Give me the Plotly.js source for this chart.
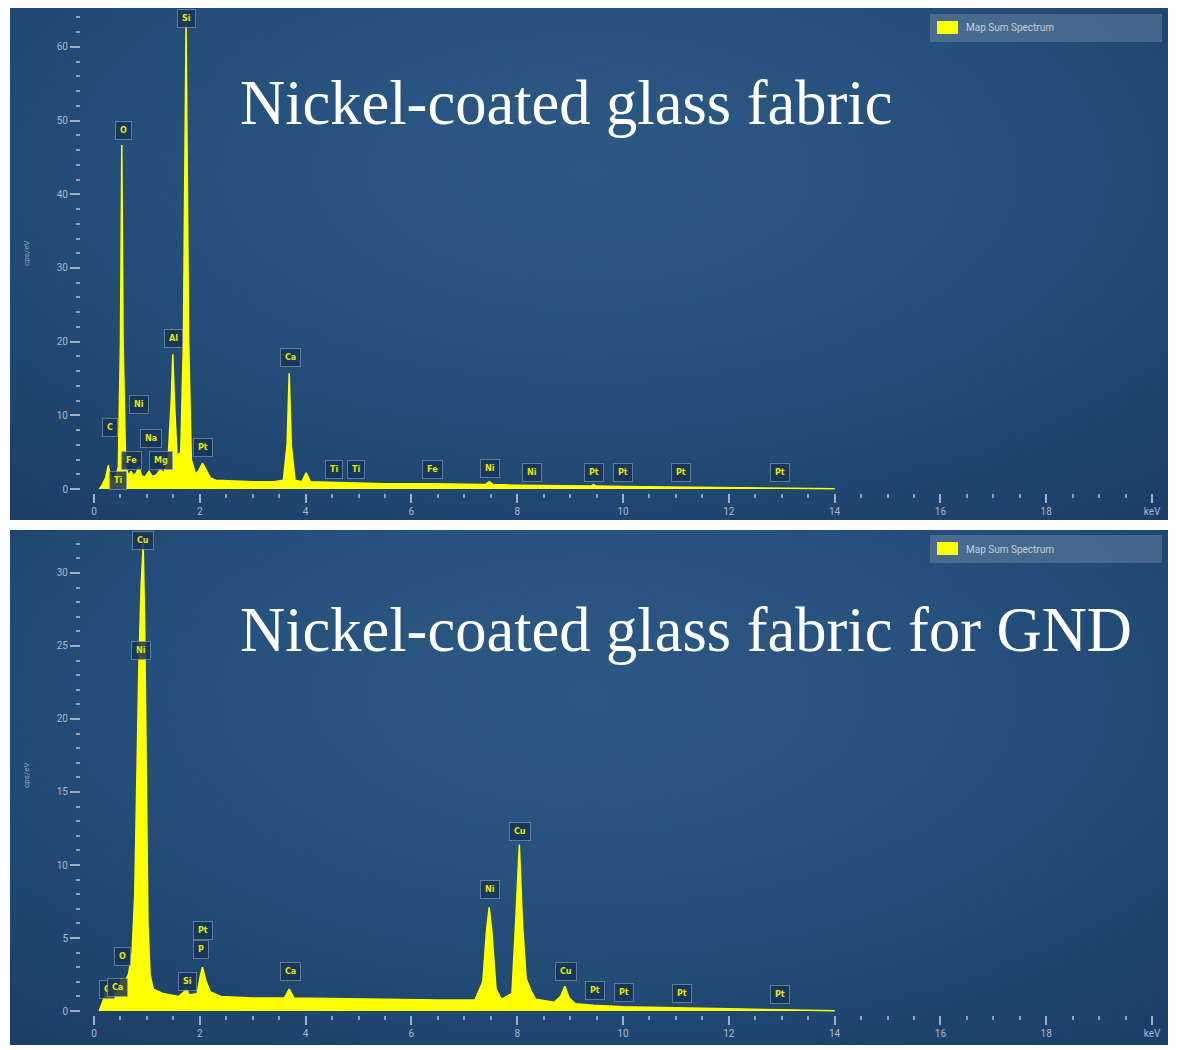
<!DOCTYPE html>
<html><head><meta charset="utf-8">
<script src="https://cdn.plot.ly/plotly-3.0.1.min.js"></script>
<style>
html,body{margin:0;padding:0;background:#ffffff;}
#chart{width:1181px;height:1050px;
background:
 radial-gradient(ellipse 75% 85% at 50% 32%, #2d5a84 0%, #25517c 45%, #1c3f69 100%) 10px 8px / 1158px 512px no-repeat,
 radial-gradient(ellipse 75% 85% at 50% 32%, #2d5a84 0%, #25517c 45%, #1c3f69 100%) 10px 530px / 1158px 515px no-repeat,
 #ffffff;}
</style></head>
<body><div id="chart"></div>
<script>
// ---------- data ----------
const energyTop = [0.10,0.15,0.22,0.27,0.32,0.40,0.46,0.50,0.525,0.55,0.60,0.66,0.70,0.75,0.80,0.85,0.90,0.96,1.04,1.10,1.18,1.25,1.32,1.40,1.46,1.49,1.52,1.57,1.64,1.69,1.74,1.79,1.84,1.92,1.98,2.05,2.12,2.20,2.30,2.60,3.00,3.40,3.58,3.65,3.69,3.73,3.80,3.93,4.01,4.09,4.50,4.93,5.50,6.40,7.00,7.40,7.47,7.55,8.00,9.40,9.44,9.50,10.0,11.0,12.0,13.0,14.0];
const countsTop = [0,0.5,1.5,3.2,1.5,1.2,3,20,46.7,20,3,1.8,2.4,1.8,2.2,3.0,1.8,1.6,2.4,1.7,1.9,2.6,2.2,4.0,12,18.3,12,4.5,5,20,63,20,4,2,2.5,3.5,2.6,1.5,1.2,1.1,1.0,1.0,1.2,6,15.7,6,1.2,1.0,2.2,1.0,0.9,0.8,0.7,0.7,0.6,0.6,1.0,0.6,0.5,0.4,0.6,0.4,0.35,0.25,0.15,0.08,0.02];

const energyBottom = [0.10,0.15,0.22,0.27,0.31,0.34,0.40,0.47,0.52,0.58,0.65,0.72,0.77,0.81,0.85,0.89,0.93,0.96,0.99,1.02,1.06,1.12,1.30,1.60,1.70,1.74,1.80,1.95,2.01,2.05,2.12,2.20,2.40,3.00,3.60,3.69,3.78,4.50,5.50,6.50,7.20,7.35,7.42,7.47,7.52,7.60,7.70,7.90,7.97,8.04,8.10,8.17,8.26,8.35,8.70,8.82,8.90,8.98,9.10,9.44,10.0,11.0,12.0,13.0,14.0];
const countsBottom = [0,0.5,1.2,2.0,1.4,1.6,1.2,1.6,2.2,2.0,2.5,4,8,16,24,29,32,26,14,6,2.5,1.5,1.2,1.0,1.3,1.6,1.1,1.2,2.4,3.0,2.0,1.3,1.0,0.9,0.9,1.5,0.9,0.85,0.8,0.75,0.75,2.0,5.5,7.1,5.5,1.5,0.8,1.2,6,11.4,6,2.2,1.4,0.8,0.6,1.0,1.7,0.9,0.5,0.4,0.3,0.2,0.15,0.08,0.02];

const labelsTop = ["C","Ti","O","Fe","Ni","Na","Mg","Al","Si","Pt","Ca","Ti","Ti","Fe","Ni","Ni","Pt","Pt","Pt","Pt"];
const labelXTop = [0.30,0.45,0.55,0.70,0.85,1.08,1.27,1.50,1.74,2.06,3.71,4.53,4.96,6.40,7.48,8.28,9.45,10.0,11.1,12.97];
const labelYTop = [8.4,1.2,48.7,3.9,11.5,6.9,3.9,20.4,63.8,5.6,17.9,2.7,2.7,2.7,2.85,2.3,2.3,2.3,2.3,2.2];

const labelsBottom = ["C","Ca","O","Ni","Cu","Si","P","Pt","Ca","Ni","Cu","Cu","Pt","Pt","Pt","Pt"];
const labelXBottom = [0.25,0.44,0.53,0.89,0.93,1.76,2.03,2.06,3.71,7.48,8.05,8.92,9.47,10.02,11.12,12.97];
const labelYBottom = [1.5,1.6,3.7,24.7,32.2,2.05,4.2,5.5,2.7,8.3,12.3,2.7,1.4,1.3,1.2,1.15];

const xTickVals = [0,2,4,6,8,10,12,14,16,18,20];
const xTickText = ["0","2","4","6","8","10","12","14","16","18","keV"];
const yTickTop = [0,10,20,30,40,50,60];
const yTickBottom = [0,5,10,15,20,25,30];
const titleTop = "Nickel-coated glass fabric";
const titleBottom = "Nickel-coated glass fabric for GND";
const legendName = "Map Sum Spectrum";

// ---------- layout helpers ----------
const W = 1181, H = 1050, ML = 80, MR = 29;
const PW = W - ML - MR;
const px = v => (v - ML) / PW;       // pixel x -> paper x
const py = v => (H - v) / H;         // pixel y -> paper y

const tickFont = {family: "Roboto, 'DejaVu Sans', sans-serif", size: 10, color: "#a9b8c9"};
const yellow = "#ffff00";

function xAxis(anchor) {
  return {
    anchor: anchor, domain: [px(94), 1], range: [0, 20],
    showgrid: false, zeroline: false, showline: false,
    tickmode: "array", tickvals: xTickVals, ticktext: xTickText,
    ticks: "outside", ticklen: 9, tickwidth: 2, tickcolor: "#9fb0c4",
    minor: {dtick: 0.5, ticks: "outside", ticklen: 4, tickwidth: 2, tickcolor: "#8ea2b8"},
    tickfont: tickFont, fixedrange: true
  };
}
function yAxis(domain, range, ticks, minorStep) {
  return {
    anchor: "free", position: 0, domain: domain, range: range,
    showgrid: false, zeroline: false, showline: false,
    tickmode: "array", tickvals: ticks,
    ticks: "outside", ticklen: 10, tickwidth: 2, tickcolor: "#9fb0c4",
    minor: {dtick: minorStep, ticks: "outside", ticklen: 4, tickwidth: 2, tickcolor: "#8ea2b8"},
    tickfont: tickFont,
    title: {text: "cps/eV", font: {family: "Roboto, sans-serif", size: 8, color: "#8fa2b8"}, standoff: 24},
    fixedrange: true
  };
}

const traces = [
  {x: energyTop, y: countsTop, xaxis: "x", yaxis: "y", type: "scatter", mode: "lines",
   name: legendName, fill: "tozeroy", fillcolor: yellow, line: {color: yellow, width: 1.5}, showlegend: false},
  {x: energyBottom, y: countsBottom, xaxis: "x2", yaxis: "y2", type: "scatter", mode: "lines",
   name: legendName, fill: "tozeroy", fillcolor: yellow, line: {color: yellow, width: 1.5}, showlegend: false}
];

function peakLabels(texts, xs, ys, xref, yref) {
  return texts.map((t, i) => ({
    text: "<b>" + t + "</b>", x: xs[i], y: ys[i], xref: xref, yref: yref,
    showarrow: false, font: {family: "'DejaVu Sans', sans-serif", size: 8, color: "#e6e600"},
    bgcolor: "rgba(24,52,86,0.85)", bordercolor: "rgba(150,172,198,0.55)", borderwidth: 1, borderpad: 4
  }));
}

const annotations = [
  ...peakLabels(labelsTop, labelXTop, labelYTop, "x", "y"),
  ...peakLabels(labelsBottom, labelXBottom, labelYBottom, "x2", "y2"),
  {text: titleTop, xref: "paper", yref: "paper", x: px(238), y: py(103), xanchor: "left", yanchor: "middle",
   showarrow: false, font: {family: "'Liberation Serif', 'DejaVu Serif', serif", size: 62.5, color: "#ffffff"}},
  {text: titleBottom, xref: "paper", yref: "paper", x: px(238), y: py(630), xanchor: "left", yanchor: "middle",
   showarrow: false, font: {family: "'Liberation Serif', 'DejaVu Serif', serif", size: 62.5, color: "#ffffff"}},
  {text: legendName, xref: "paper", yref: "paper", x: px(964), y: py(28), xanchor: "left", yanchor: "middle",
   showarrow: false, font: {family: "Roboto, sans-serif", size: 10, color: "#c4cfdb"}},
  {text: legendName, xref: "paper", yref: "paper", x: px(964), y: py(549), xanchor: "left", yanchor: "middle",
   showarrow: false, font: {family: "Roboto, sans-serif", size: 10, color: "#c4cfdb"}}
];

const shapes = [
  {type: "rect", xref: "paper", yref: "paper", x0: px(930), x1: px(1162), y0: py(42), y1: py(14),
   fillcolor: "rgba(140,160,185,0.35)", line: {width: 0}, layer: "below"},
  {type: "rect", xref: "paper", yref: "paper", x0: px(937), x1: px(958), y0: py(34), y1: py(21),
   fillcolor: yellow, line: {width: 0}},
  {type: "rect", xref: "paper", yref: "paper", x0: px(930), x1: px(1162), y0: py(563), y1: py(535),
   fillcolor: "rgba(140,160,185,0.35)", line: {width: 0}, layer: "below"},
  {type: "rect", xref: "paper", yref: "paper", x0: px(937), x1: px(958), y0: py(555), y1: py(542),
   fillcolor: yellow, line: {width: 0}}
];

const layout = {
  width: W, height: H,
  margin: {l: ML, r: MR, t: 0, b: 0},
  paper_bgcolor: "rgba(0,0,0,0)", plot_bgcolor: "rgba(0,0,0,0)",
  showlegend: false,
  xaxis: xAxis("y"),
  yaxis: yAxis([py(492.7), py(13.8)], [-0.5, 64.5], yTickTop, 2),
  xaxis2: xAxis("y2"),
  yaxis2: yAxis([py(1015.4), py(535)], [-0.3, 32.6], yTickBottom, 1),
  annotations: annotations,
  shapes: shapes
};

Plotly.newPlot("chart", traces, layout, {displayModeBar: false, staticPlot: true});
</script></body></html>
